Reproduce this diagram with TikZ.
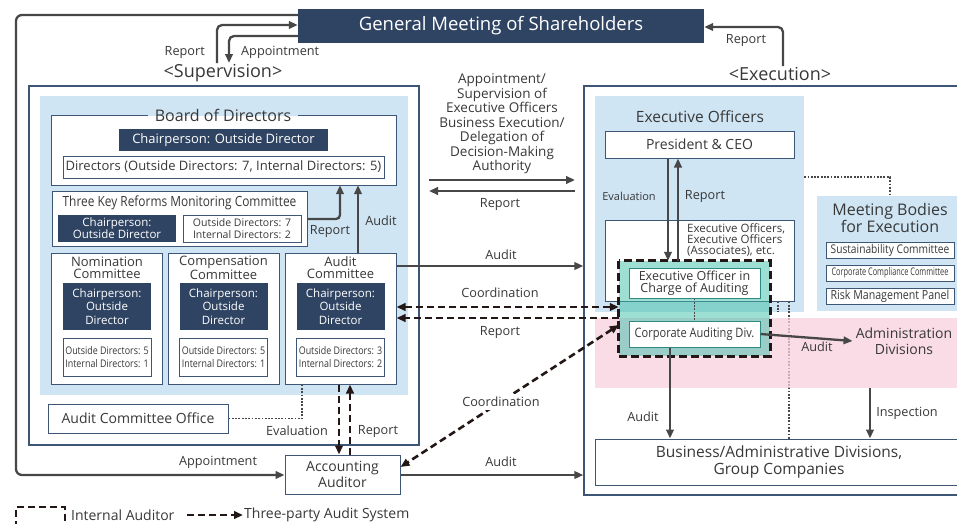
\documentclass[tikz,border=0pt]{standalone}
\usepackage{fontspec}
\setmainfont{Open Sans}
\newfontfamily\narrowfont[FakeStretch=0.85]{Open Sans}
\newfontfamily\narrowerfont[FakeStretch=0.7]{Open Sans}
\usetikzlibrary{arrows.meta,calc}

\definecolor{navy}{HTML}{2F4462}
\definecolor{framecol}{HTML}{3E5676}
\definecolor{paleblue}{HTML}{CFE5F4}
\definecolor{pinkbase}{HTML}{F7D0DE}
\definecolor{ink}{HTML}{383838}
\definecolor{arrowgray}{HTML}{474747}
\definecolor{auditblack}{HTML}{231815}
\definecolor{tealfill}{HTML}{3CC0A8}
\definecolor{tealline}{HTML}{2E8A82}

\newcommand{\fsz}[2]{\fontsize{#1}{#2}\selectfont}

\begin{document}
\begin{tikzpicture}[x=1pt,y=-1pt,
  >={Triangle[length=9pt,width=7.5pt]},
  rect/.style 2 args={minimum width=#1pt, minimum height=#2pt, inner sep=0pt},
  frame/.style={draw=framecol, line width=1.3pt},
  box/.style={draw=framecol, line width=1pt, fill=white, text=ink, align=center},
  tealbox/.style={draw=tealline, line width=1pt, fill=white, text=ink, align=center},
  dark/.style={fill=navy, text=white, align=center},
  lbl/.style={text=ink, font=\fsz{12.7}{14}, inner sep=1pt},
  arr/.style={draw=arrowgray, line width=2.3pt, ->},
  tpa/.style={draw=auditblack, line width=2.6pt, dash pattern=on 7pt off 4pt},
  dots/.style={draw=arrowgray, line width=1.9pt, dash pattern=on 1.8pt off 1.5pt},
  heading/.style={text=ink, align=center, inner sep=1pt}
]
\useasboundingbox (0,0) rectangle (957,523);

% ---------- General meeting ----------
\node[dark, rect={406}{34}, font=\fsz{18.5}{20}] (gm) at (501,26) {General Meeting of Shareholders};
\node[heading, font=\fsz{18}{20}] (suplbl) at (223,73) {<Supervision>};
\node[heading, font=\fsz{18}{20}] (exelbl) at (780,74) {<Execution>};

% ---------- Supervision side ----------
\node[frame, rect={390}{359}] (supbox) at (224,265.5) {};
\node[fill=paleblue, rect={368}{299}] (suppanel) at (224,245.5) {};

% Board of Directors
\node[fill=white, rect={344}{69}] (board) at (224,150.5) {};
\node[heading, font=\fsz{16}{18}, inner xsep=7pt] (boardtitle) at (223,115) {Board of Directors};
\draw[draw=framecol, line width=1pt] (boardtitle.east |- board.north) -- (board.north east) -- (board.south east)
  -- (board.south west) -- (board.north west) -- (boardtitle.west |- board.north);
\node[dark, rect={209}{22}, font=\fsz{13}{15}] (boardchair) at (223.5,140) {Chairperson: Outside Director};
\node[box, rect={321}{22}, font=\fsz{13}{15}] (directors) at (223.5,167) {Directors (Outside Directors: 7, Internal Directors: 5)};

% Three Key Reforms Monitoring Committee
\node[box, rect={255}{55}] (tkr) at (179.5,218.5) {};
\node[heading, font=\narrowfont\fsz{14}{16}] (tkrtitle) at (179.5,203) {Three Key Reforms Monitoring Committee};
\node[dark, rect={118}{27}, font=\fsz{11.5}{12}] (tkrchair) at (117,228.5) {Chairperson:\\Outside Director};
\node[box, rect={118}{27}, font=\fsz{10.5}{12}] (tkrmem) at (242,228.5) {Outside Directors: 7\\Internal Directors: 2};

% Statutory committees
\foreach \nm/\cx/\ttl/\o/\i in {nom/107/Nomination/5/1, comp/223.5/Compensation/5/1, aud/340.5/Audit/3/2}{
  \node[box, rect={111}{131}] (\nm) at (\cx,318.5) {};
  \node[heading, font=\fsz{13}{12}] (\nm title) at (\cx,268) {\ttl\\Committee};
  \node[dark, rect={88}{47}, font=\fsz{11.5}{13.5}] (\nm chair) at (\cx,306.5) {Chairperson:\\Outside\\Director};
  \node[box, rect={88}{38}, font=\narrowfont\fsz{10.5}{13}] (\nm mem) at (\cx,357) {Outside Directors: \o\\Internal Directors: \i};
}

\node[box, rect={180}{29}, font=\fsz{14}{16}] (aco) at (138,418.5) {Audit Committee Office};
\node[box, rect={115}{39}, font=\fsz{14}{16}] (acct) at (342.5,474.5) {Accounting\\Auditor};

% ---------- Execution side ----------
\node[frame, rect={400}{409}] (exebox) at (784,290.5) {};
\node[fill=paleblue, rect={209}{216}] (exepanel) at (699.5,204) {};
\node[fill=paleblue, rect={150}{115}] (mbpanel) at (892,253.5) {};
\node[heading, font=\fsz{15.5}{17}] (exetitle) at (700,117) {Executive Officers};
\node[box, rect={189}{27}, font=\fsz{14}{16}] (ceo) at (699.5,144.5) {President \& CEO};
\node[box, rect={189}{81}] (exeoff) at (699.5,260.5) {};
\node[anchor=north west, align=left, text=ink, inner sep=0pt, font=\fsz{11.5}{11.2}] (exeofftext) at (687,223)
  {Executive Officers,\\Executive Officers\\(Associates), etc.};
\node[box, rect={368}{46}, font=\fsz{15.5}{17}] (business) at (779,462) {Business/Administrative Divisions,\\Group Companies};

% meeting bodies
\node[heading, font=\fsz{16}{17}] (mbtitle) at (890,218) {Meeting Bodies\\for Execution};
\node[box, rect={128}{16}, font=\narrowfont\fsz{12}{12}] (sust) at (890,250) {Sustainability Committee};
\node[box, rect={128}{16}, font=\narrowerfont\fsz{10.5}{12}] (compl) at (890,273) {Corporate Compliance Committee};
\node[box, rect={128}{16}, font=\narrowfont\fsz{12.5}{12}] (risk) at (890,296) {Risk Management Panel};

% dotted links of the executive side
\draw[dots] (exepanel.east |- 0,177) -- (890,177) -- (890,0 |- mbpanel.north);
\draw[dots] (778,0 |- exeoff.south) -- (778,0 |- exepanel.south);
\draw[dots] (789,0 |- exeoff.south) -- (789,0 |- business.north);

% administration zone (translucent so the dotted line shows through)
\node[fill=pinkbase, fill opacity=0.75, rect={370}{70}] (pinkzone) at (780,353) {};
\node[heading, font=\fsz{14}{16}, inner sep=3pt] (admin) at (904,341) {Administration\\Divisions};

% internal auditor group
\node[fill=tealfill, fill opacity=0.5, rect={151}{95}] (ia) at (694.5,308.5) {};
\node[tealbox, rect={131}{30}, font=\fsz{12.5}{12.5}] (eoica) at (694.5,283) {Executive Officer in\\Charge of Auditing};
\node[tealbox, rect={131}{26}, font=\narrowfont\fsz{13}{15}] (cad) at (694.5,334) {Corporate Auditing Div.};
\draw[dots] (eoica.south) -- (cad.north);
\draw[tpa, line width=3pt, dash pattern=on 8pt off 4pt] (ia.north west) rectangle (ia.south east);

% ---------- connectors: shareholders ----------
\draw[arr, rounded corners=5] (217,0 |- suplbl.north) -- (217,25) -- (gm.west |- 0,25);
\draw[arr, rounded corners=5] (gm.west |- 0,36) -- (229,36) -- (229,0 |- suplbl.north);
\node[lbl, anchor=east] (lrep1) at (206,52) {Report};
\node[lbl, anchor=west] (lapp1) at (240,52) {Appointment};
\draw[arr, rounded corners=5] (783,0 |- exelbl.north) -- (783,27) -- (gm.east |- 0,27);
\node[lbl] (lrep2) at (746,40) {Report};
\draw[arr, rounded corners=6] (gm.west |- 0,15) -- (16,15) -- (16,475) -- (acct.west |- 0,475);
\node[lbl] (lapp2) at (218,462) {Appointment};

% ---------- connectors: board ----------
\draw[arr, rounded corners=4] (tkr.east |- 0,219) -- (340,219) -- (340,0 |- board.south);
\node[lbl] (lrep3) at (330,231) {Report};
\draw[arr] (358,0 |- aud.north) -- (358,0 |- board.south);
\node[lbl] (laud1) at (381,221) {Audit};
\draw[dots] (aco.east) -- (302,418.5) -- (302,0 |- aud.south);
\node[lbl] (leval1) at (297,431) {Evaluation};
\draw[tpa, ->] (339,0 |- aud.south) -- (339,0 |- acct.north);
\draw[tpa, ->] (350,0 |- acct.north) -- (350,0 |- aud.south);
\node[lbl] (lrep4) at (378,431) {Report};

% ---------- connectors: between sides ----------
\node[heading, font=\fsz{13.5}{14.5}] (delegtext) at (502,124)
  {Appointment/\\Supervision of\\Executive Officers\\Business Execution/\\Delegation of\\Decision-Making\\Authority};
\coordinate (delegL1) at (429,180);
\coordinate (delegR1) at (575,180);
\coordinate (delegL2) at (429,191);
\coordinate (delegR2) at (575,191);
\draw[arr] (delegL1) -- (delegR1);
\draw[arr] (delegR2) -- (delegL2);
\node[lbl] (lrep5) at (500,204) {Report};

\draw[arr] (aud.east |- 0,266) -- (exebox.west |- 0,266);
\node[lbl] (laud2) at (501,255) {Audit};
\draw[tpa, <->] (aud.east |- 0,307) -- (ia.west |- 0,307);
\node[lbl] (lcoord1) at (500,293) {Coordination};
\draw[tpa, ->] (ia.west |- 0,318) -- (aud.east |- 0,318);
\node[lbl] (lrep6) at (500,332) {Report};
\draw[tpa, <->] (ia.west |- 0,325) -- node[pos=0.54, lbl, fill=white, inner sep=3pt] (lcoord2) {Coordination} (acct.east |- 0,467);
\draw[arr] (acct.east |- 0,475) -- (exebox.west |- 0,475);
\node[lbl] (laud3) at (501,462) {Audit};

% ---------- connectors: execution ----------
\draw[arr] (668,0 |- ceo.south) -- (668,0 |- ia.north);
\draw[arr] (678,0 |- ia.north) -- (678,0 |- ceo.south);
\node[lbl, font=\fsz{11}{13}] (leval2) at (629,196) {Evaluation};
\node[lbl] (lrep7) at (705,196) {Report};
\draw[arr] (cad.east) -- (admin.west);
\node[lbl] (laud4) at (817,347) {Audit};
\draw[arr] (670,0 |- cad.south) -- (670,0 |- business.north);
\node[lbl] (laud5) at (643,417) {Audit};
\draw[arr] (870,0 |- pinkzone.south) -- (870,0 |- business.north);
\node[lbl] (linsp) at (907,413) {Inspection};

% ---------- legend ----------
\node[draw=auditblack, line width=2.4pt, dash pattern=on 7pt off 4pt, rect={49}{20}] (legbox) at (40.5,517) {};
\node[heading, font=\fsz{14}{16}, anchor=west] (legtext1) at (70,515) {Internal Auditor};
\node[heading, font=\fsz{14}{16}, anchor=west] (legtext2) at (243,515) {Three-party Audit System};
\coordinate (legstart) at (187,515);
\draw[tpa, ->] (legstart) -- (legtext2.west);
\end{tikzpicture}
\end{document}
